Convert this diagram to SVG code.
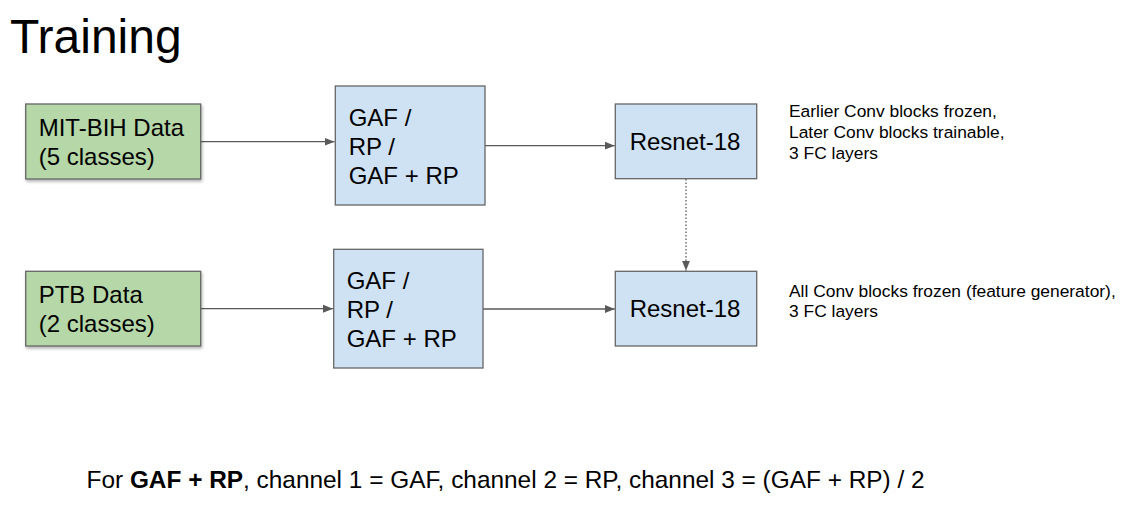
<svg xmlns="http://www.w3.org/2000/svg" width="1136" height="523" viewBox="0 0 1136 523">
<style>
text{font-family:"Liberation Sans",Arial,sans-serif;fill:#000}
.green{fill:#b6d7a8;stroke:#666;stroke-width:1.3}
.blue{fill:#cfe2f3;stroke:#666;stroke-width:1.3}
.lbl{font-size:24px}
.note{font-size:17.4px}
.conn{stroke:#595959;stroke-width:1.3;fill:none}
</style>
<defs>
<marker id="ah" viewBox="0 0 10 10" refX="10" refY="5" markerWidth="10" markerHeight="10" markerUnits="userSpaceOnUse" orient="auto">
<path d="M0,1 L10,5 L0,9 Z" fill="#595959"/>
</marker>
<filter id="sh" x="-10%" y="-10%" width="130%" height="140%">
<feDropShadow dx="1" dy="2" stdDeviation="1.5" flood-color="#000" flood-opacity="0.3"/>
</filter>
</defs>
<rect width="1136" height="523" fill="#fff"/>
<text x="10" y="53" style="font-size:48px">Training</text>
<g id="connectors">
<line class="conn" x1="201" y1="141.7" x2="334.5" y2="141.7" marker-end="url(#ah)"/>
<line class="conn" x1="485" y1="145.7" x2="614.7" y2="145.7" marker-end="url(#ah)"/>
<line class="conn" x1="201" y1="308.7" x2="333" y2="308.7" marker-end="url(#ah)"/>
<line class="conn" x1="483" y1="309" x2="614.7" y2="309" marker-end="url(#ah)"/>
<line class="conn" x1="686" y1="179" x2="686" y2="270.7" stroke-dasharray="1.5,2" marker-end="url(#ah)"/>
</g>
<g id="mitbih">
<rect class="green" x="25.7" y="104" width="175" height="75" filter="url(#sh)"/>
<text class="lbl" x="38.7" y="136">MIT-BIH Data</text>
<text class="lbl" x="38.7" y="165">(5 classes)</text>
</g>
<g id="ptb">
<rect class="green" x="25.7" y="271.3" width="175" height="74.7" filter="url(#sh)"/>
<text class="lbl" x="38.7" y="302.7">PTB Data</text>
<text class="lbl" x="38.7" y="331.7">(2 classes)</text>
</g>
<g id="gaf1">
<rect class="blue" x="335.3" y="86" width="149.7" height="119"/>
<text class="lbl" x="348.7" y="126">GAF /</text>
<text class="lbl" x="348.7" y="155">RP /</text>
<text class="lbl" x="348.7" y="184">GAF + RP</text>
</g>
<g id="gaf2">
<rect class="blue" x="333.7" y="249.3" width="149.3" height="118.7"/>
<text class="lbl" x="346.7" y="289.3">GAF /</text>
<text class="lbl" x="346.7" y="317.7">RP /</text>
<text class="lbl" x="346.7" y="346.7">GAF + RP</text>
</g>
<g id="resnet1">
<rect class="blue" x="615.3" y="104" width="141.4" height="74.7"/>
<text class="lbl" x="685" y="150" text-anchor="middle">Resnet-18</text>
</g>
<g id="resnet2">
<rect class="blue" x="615.3" y="271.3" width="141.4" height="74.7"/>
<text class="lbl" x="685" y="317.3" text-anchor="middle">Resnet-18</text>
</g>
<g id="note1">
<text class="note" x="789" y="117.3">Earlier Conv blocks frozen,</text>
<text class="note" x="789" y="138.3">Later Conv blocks trainable,</text>
<text class="note" x="789" y="159">3 FC layers</text>
</g>
<g id="note2">
<text class="note" x="789" y="296.7">All Conv blocks frozen (feature generator),</text>
<text class="note" x="789" y="317.3">3 FC layers</text>
</g>
<text x="86.5" y="488.3" style="font-size:24.4px">For <tspan font-weight="bold">GAF + RP</tspan>, channel 1 = GAF, channel 2 = RP, channel 3 = (GAF + RP) / 2</text>
</svg>
